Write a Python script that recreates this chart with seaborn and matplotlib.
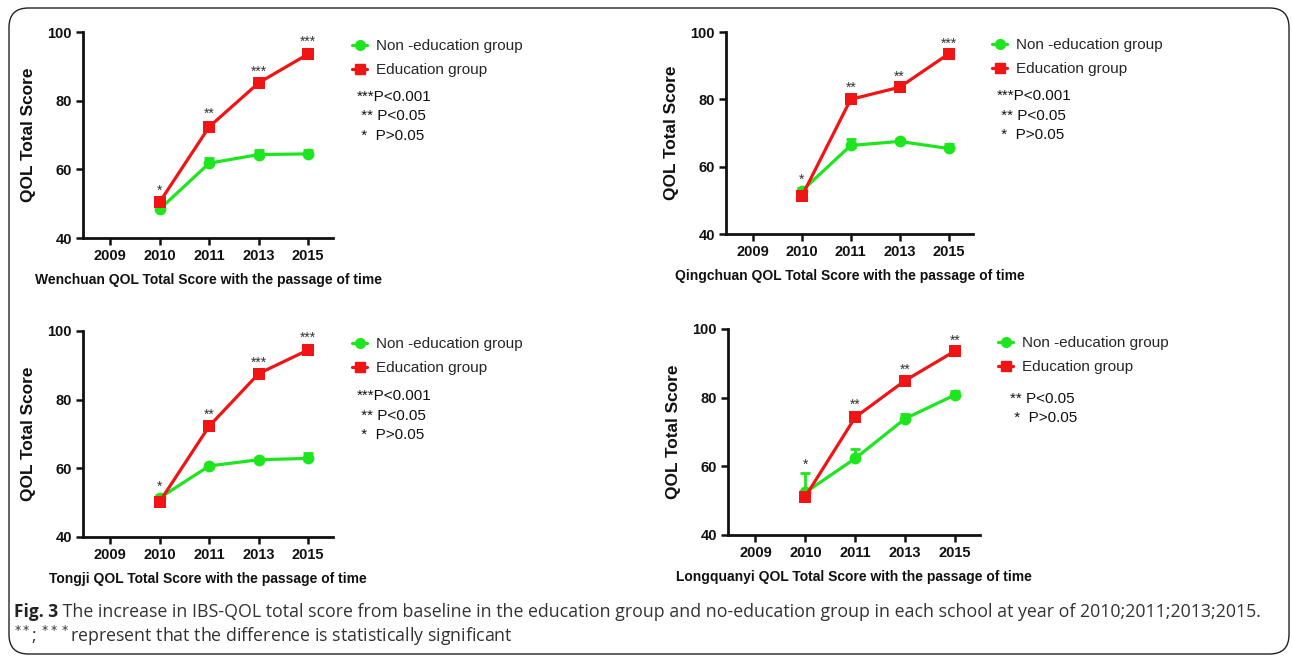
import matplotlib
matplotlib.use("Agg")
import matplotlib.pyplot as plt
import seaborn as sns
import pandas as pd
from matplotlib.patches import FancyBboxPatch
from matplotlib.lines import Line2D

sns.set_theme(style="ticks")
plt.rcParams['font.family'] = ['Liberation Sans', 'DejaVu Sans']

# ---------------- data ----------------
tick_years = ["2009", "2010", "2011", "2013", "2015"]
data_years = ["2010", "2011", "2013", "2015"]

schools = ["Wenchuan", "Qingchuan", "Tongji", "Longquanyi"]

wenchuan_non = [48.4, 61.8, 64.3, 64.5]
wenchuan_non_err = [1.2, 1.4, 1.2, 1.2]
wenchuan_edu = [50.5, 72.4, 85.2, 93.6]
wenchuan_edu_err = [0.8, 1.2, 0.8, 1.0]
wenchuan_sig = ["*", "**", "***", "***"]

qingchuan_non = [52.8, 66.3, 67.5, 65.4]
qingchuan_non_err = [0.8, 2.0, 0.6, 1.2]
qingchuan_edu = [51.2, 80.0, 83.6, 93.5]
qingchuan_edu_err = [0.6, 0.8, 0.6, 0.5]
qingchuan_sig = ["*", "**", "**", "***"]

tongji_non = [51.4, 60.7, 62.5, 62.9]
tongji_non_err = [0.8, 0.6, 0.5, 1.6]
tongji_edu = [50.3, 72.3, 87.6, 94.5]
tongji_edu_err = [0.6, 0.8, 0.6, 1.0]
tongji_sig = ["*", "**", "***", "***"]

longquanyi_non = [52.4, 62.3, 73.9, 80.8]
longquanyi_non_err = [5.6, 2.8, 1.2, 1.0]
longquanyi_edu = [51.2, 74.3, 85.0, 93.6]
longquanyi_edu_err = [0.6, 1.2, 0.8, 0.6]
longquanyi_sig = ["*", "**", "**", "**"]

pvalue_lines_3 = ["***P<0.001", " ** P<0.05", " *  P>0.05"]
pvalue_lines_2 = ["** P<0.05", " *  P>0.05"]

series_non = "Non -education group"
series_edu = "Education group"
ylabel = "QOL Total Score"
caption_bold = "Fig. 3"
caption_rest = (" The increase in IBS-QOL total score from baseline in the education group and "
                "no-education group in each school at year of 2010;2011;2013;2015.")
caption_line2 = "represent that the difference is statistically significant"

GREEN = "#1ee61e"
RED = "#f01414"

panels = [
    dict(name=schools[0], non=wenchuan_non, nerr=wenchuan_non_err, edu=wenchuan_edu,
         eerr=wenchuan_edu_err, sig=wenchuan_sig, pv=pvalue_lines_3,
         rect=(83, 32, 333, 238), leg=(352, 58), pvpos=(357, 97)),
    dict(name=schools[1], non=qingchuan_non, nerr=qingchuan_non_err, edu=qingchuan_edu,
         eerr=qingchuan_edu_err, sig=qingchuan_sig, pv=pvalue_lines_3,
         rect=(726, 32, 973, 234), leg=(992, 57), pvpos=(997, 96)),
    dict(name=schools[2], non=tongji_non, nerr=tongji_non_err, edu=tongji_edu,
         eerr=tongji_edu_err, sig=tongji_sig, pv=pvalue_lines_3,
         rect=(83, 331, 333, 537), leg=(352, 356), pvpos=(357, 396)),
    dict(name=schools[3], non=longquanyi_non, nerr=longquanyi_non_err, edu=longquanyi_edu,
         eerr=longquanyi_edu_err, sig=longquanyi_sig, pv=pvalue_lines_2,
         rect=(728, 329, 980, 535), leg=(998, 355), pvpos=(1010, 399)),
]

W, H = 1292, 658
fig = plt.figure(figsize=(W / 100, H / 100), dpi=100)
fig.patch.set_facecolor("white")

# rounded border
border = FancyBboxPatch((9 / W, 1 - 654 / H), (1289 - 9) / W, (654 - 8) / H,
                        boxstyle="round,pad=0,rounding_size=0.015",
                        transform=fig.transFigure, fill=False, edgecolor="#222222",
                        linewidth=1.0, mutation_aspect=W / H)
fig.patches.append(border)

for p in panels:
    x0, y0, x1, y1 = p["rect"]
    ax = fig.add_axes([x0 / W, 1 - y1 / H, (x1 - x0) / W, (y1 - y0) / H])
    pos = [tick_years.index(y) for y in data_years]
    df = pd.DataFrame({
        "pos": pos + pos,
        "score": p["non"] + p["edu"],
        "group": [series_non] * len(pos) + [series_edu] * len(pos),
    })
    sns.lineplot(data=df, x="pos", y="score", hue="group", style="group",
                 palette={series_non: GREEN, series_edu: RED},
                 markers={series_non: "o", series_edu: "s"}, dashes=False,
                 markersize=8.5, markeredgewidth=0, linewidth=2.3, ax=ax, legend=False)
    zeros = [0] * len(pos)
    ax.errorbar(pos, p["non"], yerr=[zeros, p["nerr"]], fmt="none", ecolor=GREEN,
                elinewidth=2, capsize=3.5, capthick=2, zorder=1)
    ax.errorbar(pos, p["edu"], yerr=[zeros, p["eerr"]], fmt="none", ecolor=RED,
                elinewidth=2, capsize=3.5, capthick=2, zorder=1)
    # significance stars
    for i, s in enumerate(p["sig"]):
        top = max(p["non"][i] + p["nerr"][i], p["edu"][i] + p["eerr"][i])
        ax.annotate(s, (pos[i], top), xytext=(0, 1), textcoords="offset points",
                    ha="center", va="bottom", fontsize=10, color="#333333")
    ax.set_xlim(-0.55, 4.5)
    ax.set_ylim(40, 100)
    ax.set_xticks(range(len(tick_years)))
    ax.set_xticklabels(tick_years)
    ax.set_yticks([40, 60, 80, 100])
    for lab in ax.get_xticklabels() + ax.get_yticklabels():
        lab.set_fontweight("bold")
        lab.set_fontsize(10.5)
        lab.set_color("#111111")
    ax.tick_params(axis="both", length=5, width=1.8, color="#111111", pad=3)
    for sp in ["left", "bottom"]:
        ax.spines[sp].set_linewidth(2)
        ax.spines[sp].set_color("#111111")
    sns.despine(ax=ax)
    ax.set_xlabel(f"{p['name']} QOL Total Score with the passage of time",
                  fontsize=10, fontweight="bold", labelpad=7, color="#111111")
    ax.set_ylabel(ylabel, fontsize=12.4, fontweight="bold", labelpad=8, color="#111111")

    handles = [Line2D([], [], color=GREEN, marker="o", markersize=7, lw=2.3),
               Line2D([], [], color=RED, marker="s", markersize=7.5, lw=2.3)]
    lx, ly = p["leg"]
    ax.legend(handles, [series_non, series_edu], loc="center left",
              bbox_to_anchor=(lx / W, 1 - ly / H), bbox_transform=fig.transFigure,
              frameon=False, fontsize=11, handlelength=1.0, handletextpad=0.6,
              labelspacing=0.65, borderaxespad=0, borderpad=0)
    px, py = p["pvpos"]
    for k, t in enumerate(p["pv"]):
        fig.text(px / W, 1 - (py + k * 19.5) / H, t, fontsize=11, va="center",
                 ha="left", color="#111111")

# caption
cap_font = ['Open Sans', 'DejaVu Sans']
t1 = fig.text(14 / W, 1 - 612 / H, caption_bold, fontsize=12.5, fontweight="bold",
              va="center", ha="left", family=cap_font, color="#222222")
fig.canvas.draw()
bb = t1.get_window_extent()
fig.text(bb.x1 / W, 1 - 612 / H, caption_rest, fontsize=12.8, va="center", ha="left",
         family=cap_font, color="#333333")
fig.text(14 / W, 1 - 636 / H, r"$^{**}$; $^{***}$" + caption_line2, fontsize=12.8,
         va="center", ha="left", family=cap_font, color="#333333")

fig.savefig("out.png", dpi=100, facecolor="white")
